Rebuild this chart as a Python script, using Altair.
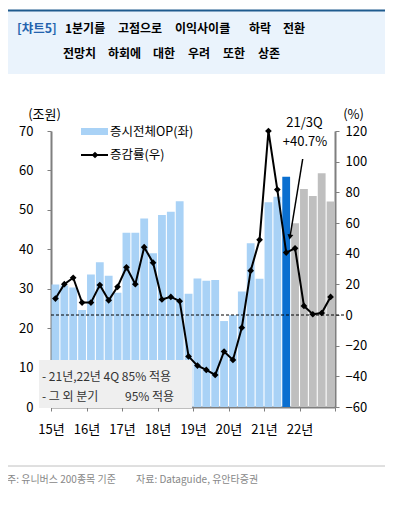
import altair as alt
import pandas as pd

FONT = "Noto Sans CJK KR"

quarters = [f"{y}Q{q}" for y in range(15, 23) for q in range(1, 5)]
op_values = [31.1, 30.8, 30.3, 24.6, 33.6, 36.7, 33.3, 29.0,
             44.2, 44.2, 47.8, 39.0, 48.7, 49.5, 52.2, 28.7,
             32.6, 32.0, 32.2, 21.8, 23.3, 29.3, 41.5, 32.5,
             51.9, 53.3, 58.4, 46.6, 55.3, 53.5, 59.3, 52.1]
rate_values = [10.7, 20.1, 24.3, 8.1, 8.1, 19.5, 9.6, 18.4,
               31.1, 20.1, 44.2, 34.1, 10.1, 11.8, 9.0, -27.0,
               -33.0, -35.8, -39.1, -23.8, -29.3, -8.3, 28.9, 49.0,
               120.0, 81.8, 40.7, 43.5, 5.9, 0.5, 1.3, 11.8]
bar_kind = ["실적"] * 26 + ["21/3Q"] + ["전망"] * 5
kind_domain = ["실적", "21/3Q", "전망"]
kind_colors = ["#a9d2f6", "#0b6fd0", "#bfbfbf"]

title_line1 = ["1분기를", "고점으로", "이익사이클", "하락", "전환"]
title_line2 = ["전망치", "하회에", "대한", "우려", "또한", "상존"]

df = pd.DataFrame({"q": quarters, "op": op_values, "rate": rate_values, "kind": bar_kind})
df["idx"] = range(len(df))
df["x0"] = df["idx"] + 0.06
df["x1"] = df["idx"] + 0.94
df["xm"] = df["idx"] + 0.5
df["base"] = 0.0

one = pd.DataFrame({"a": [0]})
AX = "#7f7f7f"

xscale = alt.Scale(domain=[0, 32], nice=False, zero=False)
xaxis = alt.Axis(values=list(range(0, 33, 4)),
                 labelExpr="datum.value < 32 ? (15 + datum.value/4) + '년' : ''",
                 tickSize=4, labelPadding=12, domainWidth=2, domainColor=AX, tickColor=AX,
                 tickWidth=1, labelFont=FONT, labelFontSize=13, labelColor="black",
                 title=None, grid=False, labelFlush=False, labelOverlap=False,
                 labelBound=False)

left_axis = alt.Axis(orient="left", values=list(range(0, 71, 10)), title="(조원)",
                     titleAngle=0, titleX=-7, titleY=-17, titleAlign="center",
                     titleBaseline="middle", titleFont=FONT, titleFontSize=13,
                     titleFontWeight="normal", titleColor="black",
                     labelFont=FONT, labelFontSize=13, labelColor="black",
                     tickSize=4, labelPadding=14, domainWidth=2, domainColor=AX,
                     tickColor=AX, grid=False)
right_axis = alt.Axis(orient="right", values=list(range(-60, 121, 20)), title="(%)",
                      titleAngle=0, titleX=18, titleY=-17, titleAlign="center",
                      titleBaseline="middle", titleFont=FONT, titleFontSize=13,
                      titleFontWeight="normal", titleColor="black",
                      labelFont=FONT, labelFontSize=13, labelColor="black",
                      tickSize=4, labelPadding=6, domainWidth=2, domainColor=AX,
                      tickColor=AX, grid=False)

ys_op = alt.Scale(domain=[0, 70], nice=False, zero=False)
def ys_rate():
    return alt.Scale(domain=[-60, 120], nice=False, zero=False)

bars = alt.Chart(df).mark_bar().encode(
    x=alt.X("x0:Q", scale=xscale, axis=xaxis),
    x2="x1:Q",
    y=alt.Y("op:Q", scale=ys_op, axis=left_axis),
    y2="base:Q",
    color=alt.Color("kind:N", scale=alt.Scale(domain=kind_domain, range=kind_colors), legend=None),
)

zero = alt.Chart(pd.DataFrame({"z": [0]})).mark_rule(
    color="black", strokeDash=[3, 2], strokeWidth=1).encode(
    y=alt.Y("z:Q", scale=ys_rate(), axis=None),
    x=alt.value(0), x2=alt.value(294))

line = alt.Chart(df).mark_line(color="black", strokeWidth=2).encode(
    x=alt.X("xm:Q", scale=xscale, axis=xaxis),
    y=alt.Y("rate:Q", scale=ys_rate(), axis=right_axis))

pts = alt.Chart(df).mark_point(shape="diamond", filled=True, color="black", size=45, opacity=1).encode(
    x=alt.X("xm:Q", scale=xscale, axis=xaxis),
    y=alt.Y("rate:Q", scale=ys_rate(), axis=None))

def txt(text, x, y, size=13, color="black", weight="normal", align="left"):
    return alt.Chart(one).mark_text(text=text, font=FONT, fontSize=size, color=color,
                                    fontWeight=weight, align=align, baseline="middle").encode(
        x=alt.value(x), y=alt.value(y))

def rect(x, x2, y, y2, color):
    return alt.Chart(one).mark_rect(color=color).encode(
        x=alt.value(x), x2=alt.value(x2), y=alt.value(y), y2=alt.value(y2))

def hrule(x, x2, y, color, w=1):
    return alt.Chart(one).mark_rule(color=color, strokeWidth=w).encode(
        x=alt.value(x), x2=alt.value(x2), y=alt.value(y))

# header
header_bg = rect(-44, 334, -121, -57, "#eaf3fc")
header_line = hrule(-44, 334, -120.5, "#1f5b8e", 2)
header = [header_bg, header_line, txt("[챠트5]", -34, -102, 12.5, "#2463ae", "bold")]
for word, x in zip(title_line1, [14, 67, 124, 198, 232]):
    header.append(txt(word, x, -102, 12, "black", "bold"))
for word, x in zip(title_line2, [12, 57, 102, 137, 172, 207]):
    header.append(txt(word, x, -77, 12, "black", "bold"))

# footer
foot_line = hrule(-44, 334, 335, "#c0c0c0", 1)
f1 = txt("주: 유니버스 200종목 기준", -44, 349, 10, "#888888")
f2 = txt("자료: Dataguide, 유안타증권", 85, 349, 10, "#888888")

# note box
box = rect(-12, 141, 229, 277, "#efefef")
b1 = txt("- 21년,22년 4Q 85% 적용", -9, 246, 12, "#333333")
b2 = txt("- 그 외 분기", -9, 266, 12, "#333333")
b3 = txt("95% 적용", 74, 266, 12, "#333333")

# legend
leg_rect = rect(30, 57, -3, 4, "#a9d2f6")
leg_t1 = txt("증시전체OP(좌)", 59, 0.7, 12.5)
leg_line = hrule(30, 57, 24, "black", 2)
leg_pt = alt.Chart(one).mark_point(shape="diamond", filled=True, color="black", size=45, opacity=1).encode(
    x=alt.value(44), y=alt.value(24))
leg_t2 = txt("증감률(우)", 59, 24, 12.5)

# annotation
ann1 = txt("21/3Q", 253.5, -8, 13, align="center")
ann2 = txt("+40.7%", 254, 10.7, 13, align="center")
arrow = alt.Chart(one).mark_rule(color="black", strokeWidth=1.5).encode(
    x=alt.value(251.7), y=alt.value(28), x2=alt.value(239.3), y2=alt.value(104))
arrow_head = alt.Chart(one).mark_point(shape="triangle-down", filled=True, color="black",
                                       size=35, opacity=1, angle=9).encode(
    x=alt.value(239), y=alt.value(106))

chart = alt.layer(
    *header,
    foot_line, f1, f2,
    bars, zero, box, b1, b2, b3,
    line, pts,
    leg_rect, leg_t1, leg_line, leg_pt, leg_t2,
    arrow, arrow_head, ann1, ann2,
).resolve_scale(y="independent").properties(
    width=284, height=276,
    padding={"left": 43, "top": 123, "right": 54, "bottom": 88},
    autosize=alt.AutoSizeParams(type="none"),
    background="white",
).configure_view(stroke=None)

chart.save("out.html", embed_options={"renderer": "svg", "actions": False})
